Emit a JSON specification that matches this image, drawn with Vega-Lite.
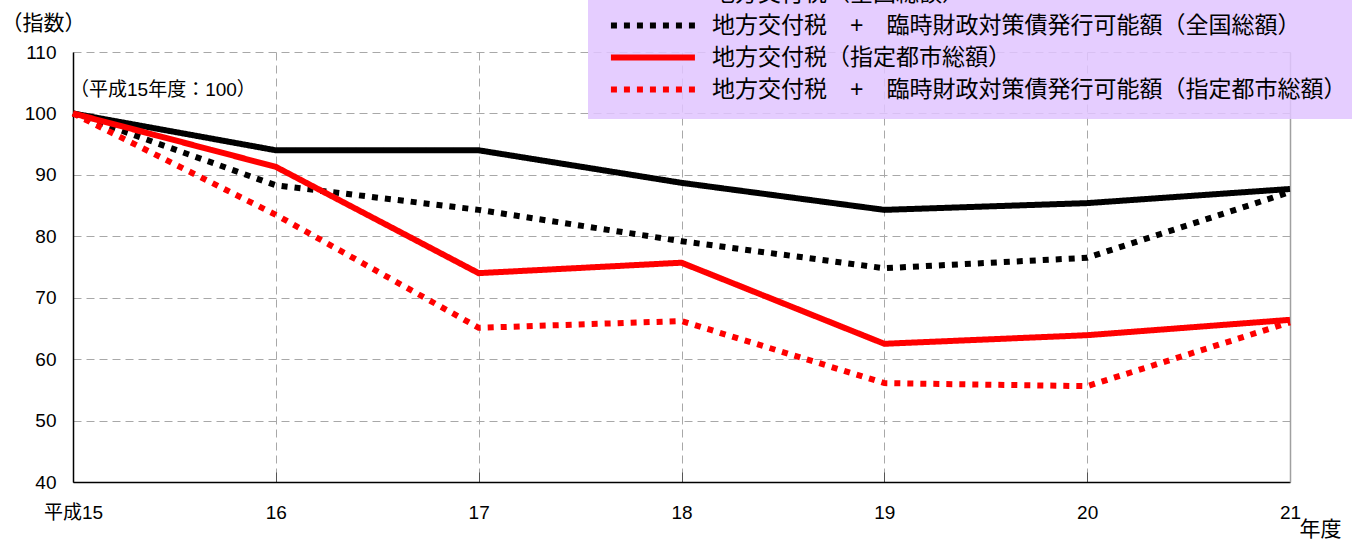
{
  "$schema": "https://vega.github.io/schema/vega-lite/v6.json",
  "width": 1217,
  "height": 430,
  "autosize": {"type": "none"},
  "padding": {"left": 73, "top": 52, "right": 62, "bottom": 60},
  "background": "white",
  "config": {
    "font": "Liberation Sans, Noto Sans CJK JP",
    "view": {"stroke": null}
  },
  "datasets": {
    "series": [
      {"year": "平成15", "series": "地方交付税（全国総額）", "v": 100},
      {"year": "16", "series": "地方交付税（全国総額）", "v": 94.0},
      {"year": "17", "series": "地方交付税（全国総額）", "v": 94.0},
      {"year": "18", "series": "地方交付税（全国総額）", "v": 88.7},
      {"year": "19", "series": "地方交付税（全国総額）", "v": 84.3},
      {"year": "20", "series": "地方交付税（全国総額）", "v": 85.4},
      {"year": "21", "series": "地方交付税（全国総額）", "v": 87.7},
      {"year": "平成15", "series": "地方交付税　+　臨時財政対策債発行可能額（全国総額）", "v": 100},
      {"year": "16", "series": "地方交付税　+　臨時財政対策債発行可能額（全国総額）", "v": 88.3},
      {"year": "17", "series": "地方交付税　+　臨時財政対策債発行可能額（全国総額）", "v": 84.3},
      {"year": "18", "series": "地方交付税　+　臨時財政対策債発行可能額（全国総額）", "v": 79.2},
      {"year": "19", "series": "地方交付税　+　臨時財政対策債発行可能額（全国総額）", "v": 74.8},
      {"year": "20", "series": "地方交付税　+　臨時財政対策債発行可能額（全国総額）", "v": 76.5},
      {"year": "21", "series": "地方交付税　+　臨時財政対策債発行可能額（全国総額）", "v": 87.2},
      {"year": "平成15", "series": "地方交付税（指定都市総額）", "v": 100},
      {"year": "16", "series": "地方交付税（指定都市総額）", "v": 91.3},
      {"year": "17", "series": "地方交付税（指定都市総額）", "v": 74.0},
      {"year": "18", "series": "地方交付税（指定都市総額）", "v": 75.7},
      {"year": "19", "series": "地方交付税（指定都市総額）", "v": 62.5},
      {"year": "20", "series": "地方交付税（指定都市総額）", "v": 63.9},
      {"year": "21", "series": "地方交付税（指定都市総額）", "v": 66.4},
      {"year": "平成15", "series": "地方交付税　+　臨時財政対策債発行可能額（指定都市総額）", "v": 100},
      {"year": "16", "series": "地方交付税　+　臨時財政対策債発行可能額（指定都市総額）", "v": 83.5},
      {"year": "17", "series": "地方交付税　+　臨時財政対策債発行可能額（指定都市総額）", "v": 65.1},
      {"year": "18", "series": "地方交付税　+　臨時財政対策債発行可能額（指定都市総額）", "v": 66.2},
      {"year": "19", "series": "地方交付税　+　臨時財政対策債発行可能額（指定都市総額）", "v": 56.1},
      {"year": "20", "series": "地方交付税　+　臨時財政対策債発行可能額（指定都市総額）", "v": 55.6},
      {"year": "21", "series": "地方交付税　+　臨時財政対策債発行可能額（指定都市総額）", "v": 66.0}
    ],
    "note": [
      {"year": "平成15", "v": 103.8, "label": "（平成15年度：100）"}
    ]
  },
  "resolve": {"axis": {"y": "independent"}},
  "layer": [
    {
      "data": {"name": "series"},
      "mark": {"type": "line", "strokeWidth": 6, "strokeCap": "butt"},
      "encoding": {
        "x": {
          "field": "year", "type": "ordinal",
          "scale": {"type": "point", "padding": 0, "domain": ["平成15", "16", "17", "18", "19", "20", "21"]},
          "axis": {
            "title": "年度", "titleFontSize": 21, "titleFontWeight": "normal", "titleColor": "#000",
            "titleX": 1226, "titleY": 36, "titleAlign": "left", "titleBaseline": "top", "titleAnchor": null,
            "labelAngle": 0, "labelFontSize": 19, "labelColor": "#000", "labelPadding": 31,
            "domainColor": "#000", "domainWidth": 1.5,
            "ticks": true, "tickSize": -10, "tickColor": "#555", "tickWidth": 1,
            "grid": true, "gridColor": "#a8a8a8", "gridDash": [8, 5], "gridWidth": 1
          }
        },
        "y": {
          "field": "v", "type": "quantitative",
          "scale": {"domain": [40, 110], "nice": false, "zero": false},
          "axis": {
            "title": "（指数）", "titleAngle": 0, "titleFontSize": 21, "titleFontWeight": "normal", "titleColor": "#000",
            "titleX": -72, "titleY": -29, "titleAlign": "left", "titleBaseline": "middle", "titleAnchor": null,
            "values": [40, 50, 60, 70, 80, 90, 100, 110],
            "labelFontSize": 19, "labelColor": "#000", "labelPadding": 17,
            "ticks": false, "domainColor": "#000", "domainWidth": 1.5,
            "grid": true, "gridColor": "#a8a8a8", "gridDash": [8, 5], "gridWidth": 1
          }
        },
        "color": {
          "field": "series", "type": "nominal",
          "scale": {
            "domain": ["地方交付税（全国総額）", "地方交付税　+　臨時財政対策債発行可能額（全国総額）", "地方交付税（指定都市総額）", "地方交付税　+　臨時財政対策債発行可能額（指定都市総額）"],
            "range": ["#000000", "#000000", "#ff0000", "#ff0000"]
          },
          "legend": {
            "title": null, "orient": "none", "legendX": 515, "legendY": -89,
            "padding": 17, "fillColor": "rgba(224,196,255,0.85)", "strokeColor": null,
            "symbolType": "M-0.72,0L7.28,0", "symbolSize": 441, "symbolStrokeWidth": 6,
            "labelFontSize": 23, "labelColor": "#000", "labelLimit": 1000, "labelOffset": 80,
            "rowPadding": 6
          }
        },
        "strokeDash": {
          "field": "series", "type": "nominal",
          "scale": {
            "domain": ["地方交付税（全国総額）", "地方交付税　+　臨時財政対策債発行可能額（全国総額）", "地方交付税（指定都市総額）", "地方交付税　+　臨時財政対策債発行可能額（指定都市総額）"],
            "range": [[1, 0], [6, 7], [1, 0], [6, 7]]
          },
          "legend": {
            "title": null, "orient": "none", "legendX": 515, "legendY": -89,
            "padding": 17, "fillColor": "rgba(224,196,255,0.85)", "strokeColor": null,
            "symbolType": "M-0.72,0L7.28,0", "symbolSize": 441, "symbolStrokeWidth": 6,
            "labelFontSize": 23, "labelColor": "#000", "labelLimit": 1000, "labelOffset": 80,
            "rowPadding": 6
          }
        }
      }
    },
    {
      "data": {"name": "note"},
      "mark": {"type": "text", "align": "left", "baseline": "middle", "fontSize": 19, "dx": -3, "color": "#000"},
      "encoding": {
        "x": {"field": "year", "type": "ordinal"},
        "y": {"field": "v", "type": "quantitative", "axis": {"orient": "right", "labels": false, "ticks": false, "grid": false, "title": null, "domainColor": "#a0a0a0", "domainWidth": 1.5}},
        "text": {"field": "label"}
      }
    }
  ]
}
